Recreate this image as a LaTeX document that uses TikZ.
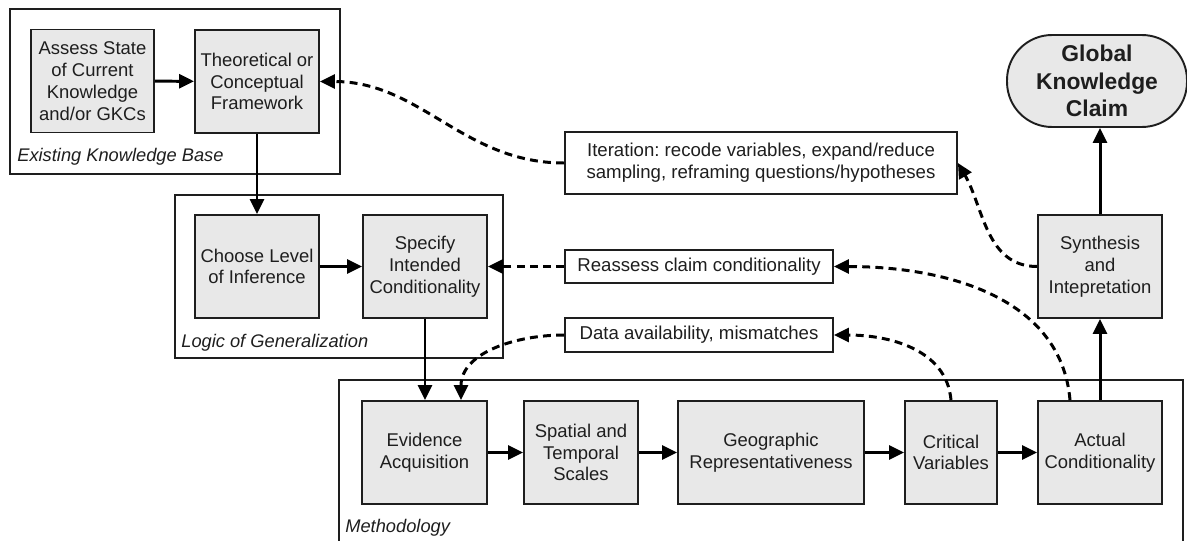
\documentclass[tikz,border=0pt]{standalone}
\usepackage{fontspec}
\setmainfont{Liberation Sans}
\usepackage{xcolor}
\usepackage{tikz}
\usetikzlibrary{arrows.meta, positioning, calc}
\definecolor{gkcgrey}{HTML}{E8E8E8}
\definecolor{gkcink}{HTML}{1E1E1E}
\frenchspacing

\begin{document}
\begin{tikzpicture}[x=0.02cm, y=-0.02cm,
  box/.style={draw=gkcink, line width=1.1pt, fill=gkcgrey, text=gkcink,
    minimum width=2.48cm, minimum height=2.06cm, align=center, inner sep=2pt,
    font=\fontsize{10.5}{12.4}\selectfont},
  note/.style={draw=gkcink, line width=1.1pt, fill=white, text=gkcink,
    minimum width=5.36cm, minimum height=0.67cm, align=center, inner sep=2pt,
    font=\fontsize{10.6}{12.4}\selectfont},
  claim/.style={draw=gkcink, line width=1.1pt, fill=gkcgrey, text=gkcink,
    minimum width=3.6cm, minimum height=1.84cm, rounded corners=0.9cm,
    align=center, font=\fontsize{13}{15.6}\selectfont\bfseries},
  group/.style={draw=gkcink, line width=0.85pt},
  grouplabel/.style={anchor=base west, inner sep=0pt, text=gkcink,
    font=\fontsize{10.4}{12.4}\selectfont\itshape},
  arrow/.style={-{Triangle[length=3mm, width=2.8mm]}, line width=1.7pt, draw=black},
  dasharrow/.style={arrow, dash pattern=on 4.5pt off 3pt}]
  \useasboundingbox (0,0) rectangle (1187,541);

  % group frames
  \draw[group] (10,9) rectangle (340,174);
  \draw[group] (175,195) rectangle (503,358);
  \draw[group] (339,541) |- (1183,380) -- (1183,541);
  \node[grouplabel] (ekblabel) at (17,161) {Existing Knowledge Base};
  \node[grouplabel] (loglabel) at (181,347) {Logic of Generalization};
  \node[grouplabel] (methlabel) at (345,532) {Methodology};

  % boxes
  \node[box, minimum width=2.46cm] (assess) at (92.5,81) {Assess State\\of Current\\Knowledge\\and/or GKCs};
  \node[box] (theory) at (257,81.5) {Theoretical or\\Conceptual\\Framework};
  \node[box] (choose) at (257,266.5) {Choose Level\\of Inference};
  \node[box] (specify) at (425,266.5) {Specify\\Intended\\Conditionality};
  \node[box, minimum width=2.5cm] (evidence) at (424.5,452.5) {Evidence\\Acquisition};
  \node[box, minimum width=2.28cm] (spatial) at (581,452.5) {Spatial and\\Temporal\\Scales};
  \node[box, minimum width=3.72cm] (geo) at (771,452.5) {Geographic\\Representativeness};
  \node[box, minimum width=1.84cm] (critical) at (951,452.5) {Critical\\Variables};
  \node[box] (actual) at (1100,452.5) {Actual\\Conditionality};
  \node[box] (synth) at (1100,266.5) {Synthesis\\and\\Intepretation};
  \node[claim] (gkc) at (1097,81) {Global\\Knowledge\\Claim};

  % feedback notes
  \node[note, minimum width=7.84cm, minimum height=1.24cm] (iter) at (761,163)
    {Iteration: recode variables, expand/reduce\\sampling, reframing questions/hypotheses};
  \node[note] (reassess) at (699,266.5) {Reassess claim conditionality};
  \node[note] (data) at (699,335) {Data availability, mismatches};

  % main flow
  \draw[arrow] (assess) -- (theory);
  \draw[arrow] (theory) -- (choose);
  \draw[arrow] (choose) -- (specify);
  \draw[arrow] (specify.south) -- (specify.south |- evidence.north);
  \draw[arrow] (evidence) -- (spatial);
  \draw[arrow] (spatial) -- (geo);
  \draw[arrow] (geo) -- (critical);
  \draw[arrow] (critical) -- (actual);
  \draw[arrow] (actual) -- (synth);
  \draw[arrow] (synth.north) -- (synth.north |- gkc.south);

  % feedback loops
  \draw[dasharrow] (iter.west) to[out=180, in=0] (theory.east);
  \draw[dasharrow] (reassess) -- (specify);
  \draw[dasharrow] (data.west) to[out=180, in=90] ([xshift=0.73cm]evidence.north);
  \draw[dasharrow] (critical.north) to[out=95, in=0] (data.east);
  \draw[dasharrow] ([xshift=-0.6cm]actual.north) to[out=95, in=0] (reassess.east);
  \draw[dasharrow] (synth.west) to[out=180, in=-60] (iter.east);
\end{tikzpicture}
\end{document}
